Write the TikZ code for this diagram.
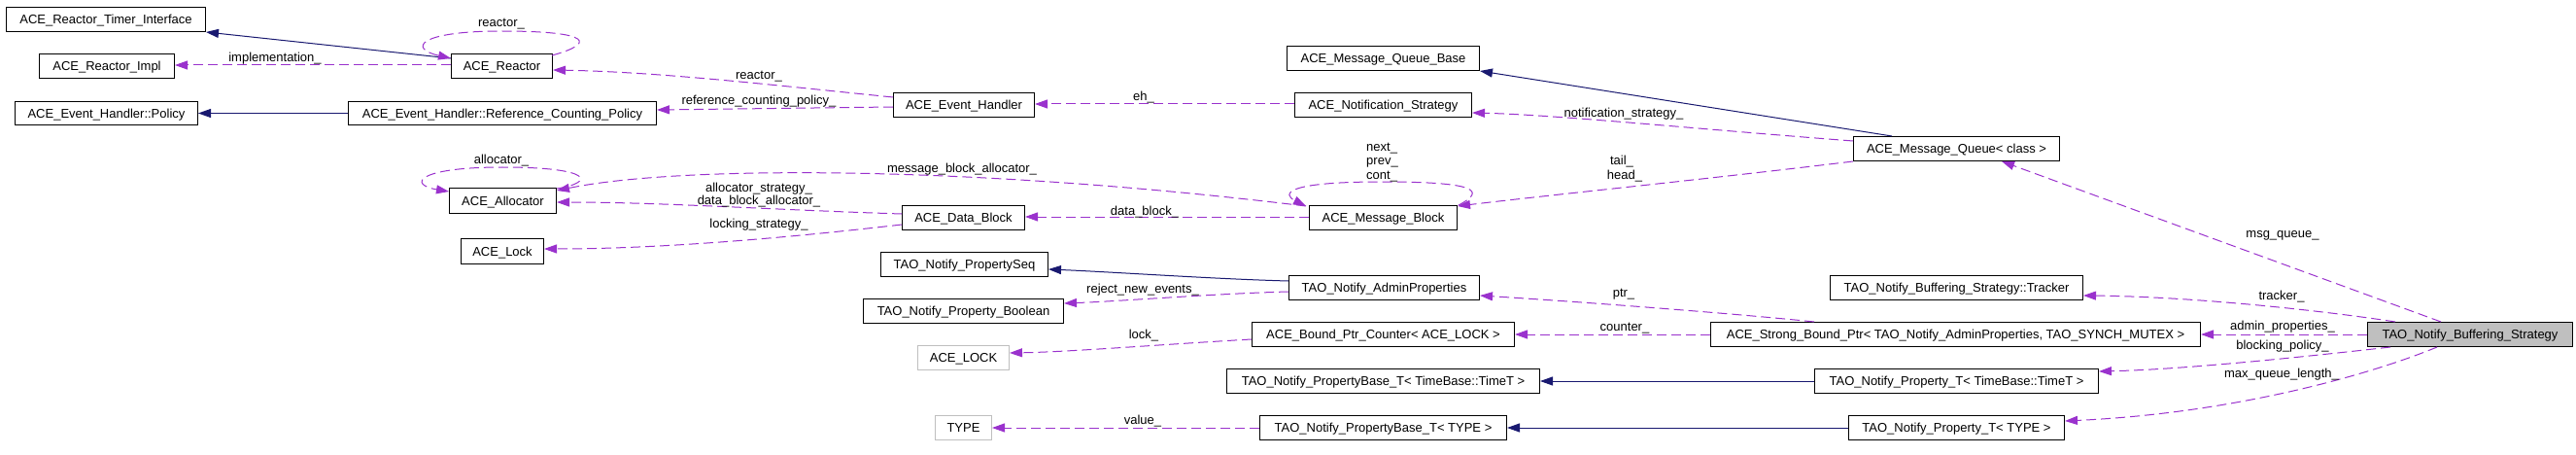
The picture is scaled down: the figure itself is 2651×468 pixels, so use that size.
\documentclass[tikz,border=0pt]{standalone}
\usepackage{fontspec}
\setmainfont{Liberation Sans}
\usetikzlibrary{arrows.meta}
\newcommand\dxfont{\fontsize{13}{15}\selectfont}
\definecolor{inhblue}{HTML}{191970}
\definecolor{usepurple}{HTML}{9A32CD}
\definecolor{boxgray}{HTML}{BFBFBF}
\tikzset{
  box/.style={draw=black, line width=1pt, inner sep=0pt, minimum height=25pt, anchor=north west,
    font=\dxfont, text height=9.3pt, text depth=0pt},
  graybox/.style={box, draw=boxgray},
  focusbox/.style={box, fill=boxgray},
  inh/.style={draw=inhblue, line width=1pt, -{Triangle[length=13pt,width=9pt]}},
  use/.style={draw=usepurple, line width=1pt, dash pattern=on 10pt off 5pt, -{Triangle[length=13pt,width=9pt]}},
  lbl/.style={font=\dxfont, inner sep=0pt, anchor=base}
}
\begin{document}
\begin{tikzpicture}[x=1pt,y=-1pt]
\useasboundingbox (0,0) rectangle (2651,468);
% nodes
\node[box, minimum width=205pt] (tri) at (6,7) {ACE\_Reactor\_Timer\_Interface};
\node[box, minimum width=139pt] (impl) at (40,55) {ACE\_Reactor\_Impl};
\node[box, minimum width=188pt, minimum height=24pt] (policy) at (15,104) {ACE\_Event\_Handler::Policy};
\node[box, minimum width=317pt, minimum height=24pt] (rcp) at (358,104) {ACE\_Event\_Handler::Reference\_Counting\_Policy};
\node[box, minimum width=104pt] (reactor) at (464,55) {ACE\_Reactor};
\node[box, minimum width=110pt, minimum height=26pt] (alloc) at (462,193) {ACE\_Allocator};
\node[box, minimum width=85pt, minimum height=26pt] (lock) at (474,245) {ACE\_Lock};
\node[box, minimum width=145pt] (eh) at (919,95) {ACE\_Event\_Handler};
\node[box, minimum width=126pt] (db) at (928,211) {ACE\_Data\_Block};
\node[box, minimum width=172pt] (pseq) at (906,259) {TAO\_Notify\_PropertySeq};
\node[box, minimum width=206pt] (pbool) at (888,307) {TAO\_Notify\_Property\_Boolean};
\node[graybox, minimum width=94pt] (LOCK) at (944,355) {ACE\_LOCK};
\node[graybox, minimum width=58pt] (type) at (962,427) {TYPE};
\node[box, minimum width=198pt] (mqb) at (1324,47) {ACE\_Message\_Queue\_Base};
\node[box, minimum width=182pt] (ns) at (1332,95) {ACE\_Notification\_Strategy};
\node[box, minimum width=152pt] (mb) at (1347,211) {ACE\_Message\_Block};
\node[box, minimum width=196pt] (ap) at (1326,283) {TAO\_Notify\_AdminProperties};
\node[box, minimum width=270pt] (bpc) at (1288,331) {ACE\_Bound\_Ptr\_Counter< ACE\_LOCK >};
\node[box, minimum width=322pt] (pbt) at (1262,379) {TAO\_Notify\_PropertyBase\_T< TimeBase::TimeT >};
\node[box, minimum width=254pt] (pby) at (1296,427) {TAO\_Notify\_PropertyBase\_T< TYPE >};
\node[box, minimum width=212pt] (mq) at (1907,140) {ACE\_Message\_Queue< class >};
\node[box, minimum width=260pt] (tr) at (1883,283) {TAO\_Notify\_Buffering\_Strategy::Tracker};
\node[box, minimum width=504pt] (sbp) at (1760,331) {ACE\_Strong\_Bound\_Ptr< TAO\_Notify\_AdminProperties, TAO\_SYNCH\_MUTEX >};
\node[box, minimum width=292pt] (ptt) at (1867,379) {TAO\_Notify\_Property\_T< TimeBase::TimeT >};
\node[box, minimum width=222pt] (pty) at (1902,427) {TAO\_Notify\_Property\_T< TYPE >};
\node[focusbox, minimum width=211pt] (bs) at (2436,331) {TAO\_Notify\_Buffering\_Strategy};

% inheritance edges
\draw[inh] ([yshift=-5pt]reactor.north west) -- (tri.south east);
\draw[inh] (rcp.west) -- (policy.east);
\draw[inh] ([xshift=40pt]mq.north west) -- (mqb.south east);
\draw[inh] ([yshift=-6pt]ap.north west) .. controls (1250,287) and (1150,280) .. ([yshift=-18pt]pseq.north east);
\draw[inh] (ptt.west) -- (pbt.east);
\draw[inh] (pty.west) -- (pby.east);

% usage edges
\draw[use] ([yshift=-12pt]reactor.north west) -- ([yshift=-12pt]impl.north east);
\draw[use] ([xshift=-1pt,yshift=-2pt]reactor.north east) .. controls (612,45) and (612,32) .. (516,32)
  .. controls (430,32) and (420,50) .. ([yshift=-5pt]reactor.north west);
\draw[use] ([yshift=-5pt]eh.north west) .. controls (800,88) and (680,74) .. ([yshift=-17pt]reactor.north east);
\draw[use] ([yshift=-15pt]eh.north west) -- ([yshift=-9pt]rcp.north east);
\draw[use] ([yshift=-12pt]ns.north west) -- ([yshift=-12pt]eh.north east);
\draw[use] ([yshift=-5pt]mq.north west) .. controls (1750,133) and (1600,118) .. ([yshift=-21pt]ns.north east);
\draw[use] (mq.south west) .. controls (1750,185) and (1600,200) .. ([yshift=-1pt]mb.north east);
\draw[use] ([xshift=1pt]mb.north east) .. controls (1530,196) and (1520,187) .. (1422,187)
  .. controls (1320,187) and (1320,200) .. ([xshift=-3pt,yshift=-1pt]mb.north west);
\draw[use] ([xshift=-3pt,yshift=-1pt]mb.north west) .. controls (1000,170) and (700,170) .. ([yshift=-3pt]alloc.north east);
\draw[use] ([yshift=-12pt]mb.north west) -- ([yshift=-12pt]db.north east);
\draw[use] ([yshift=-9pt]db.north west) .. controls (800,216) and (680,208) .. ([yshift=-15pt]alloc.north east);
\draw[use] ([yshift=-20pt]db.north west) .. controls (850,240) and (700,256) .. ([yshift=-11pt]lock.north east);
\draw[use] ([yshift=-1pt]alloc.north east) .. controls (612,188) and (612,172) .. (517,172)
  .. controls (428,172) and (420,190) .. ([yshift=-4pt]alloc.north west);
\draw[use] ([yshift=-17pt]ap.north west) .. controls (1250,302) and (1150,310) .. ([yshift=-5pt]pbool.north east);
\draw[use] ([xshift=107pt]sbp.north west) .. controls (1780,322) and (1620,310) .. ([yshift=-21pt]ap.north east);
\draw[use] (sbp.west) -- (bpc.east);
\draw[use] ([yshift=-18pt]bpc.north west) .. controls (1200,354) and (1100,362) .. ([yshift=-8pt]LOCK.north east);
\draw[use] (pby.west) -- (type.east);
\draw[use] ([xshift=76pt]bs.north west) -- ([xshift=153pt]mq.south west);
\draw[use] ([xshift=29pt]bs.north west) .. controls (2380,318) and (2250,305) .. ([yshift=-21pt]tr.north east);
\draw[use] (bs.west) -- (sbp.east);
\draw[use] ([xshift=24pt]bs.south west) .. controls (2380,366) and (2250,380) .. ([yshift=-3pt]ptt.north east);
\draw[use] ([xshift=72pt]bs.south west) .. controls (2440,385) and (2300,425) .. ([yshift=-6pt]pty.north east);

% labels
\node[lbl] (l1) at (283,64) {implementation\_};
\node[lbl] (l2) at (516,28) {reactor\_};
\node[lbl] (l3) at (781,82) {reactor\_};
\node[lbl] (l4) at (781,108) {reference\_counting\_policy\_};
\node[lbl] (l5) at (516,168) {allocator\_};
\node[lbl] (l6) at (781,197) {allocator\_strategy\_};
\node[lbl] (l7) at (781,211) {data\_block\_allocator\_};
\node[lbl] (l8) at (781,234) {locking\_strategy\_};
\node[lbl] (l9) at (1177,104) {eh\_};
\node[lbl] (l10) at (990,178) {message\_block\_allocator\_};
\node[lbl] (l11) at (1178,221) {data\_block\_};
\node[lbl] (l12) at (1176,301) {reject\_new\_events\_};
\node[lbl] (l13) at (1177,348) {lock\_};
\node[lbl] (l14) at (1176,436) {value\_};
\node[lbl] (l15) at (1671,121) {notification\_strategy\_};
\node[lbl, anchor=base west] (l16) at (1406,156) {next\_};
\node[lbl, anchor=base west] (l17) at (1406,170) {prev\_};
\node[lbl, anchor=base west] (l18) at (1406,185) {cont\_};
\node[lbl] (l19) at (1669,170) {tail\_};
\node[lbl] (l20) at (1672,185) {head\_};
\node[lbl] (l21) at (1671,305) {ptr\_};
\node[lbl] (l22) at (1672,340) {counter\_};
\node[lbl] (l23) at (2349,244) {msg\_queue\_};
\node[lbl] (l24) at (2348,308) {tracker\_};
\node[lbl] (l25) at (2349,339) {admin\_properties\_};
\node[lbl] (l26) at (2349,359) {blocking\_policy\_};
\node[lbl] (l27) at (2348,388) {max\_queue\_length\_};
\end{tikzpicture}
\end{document}
